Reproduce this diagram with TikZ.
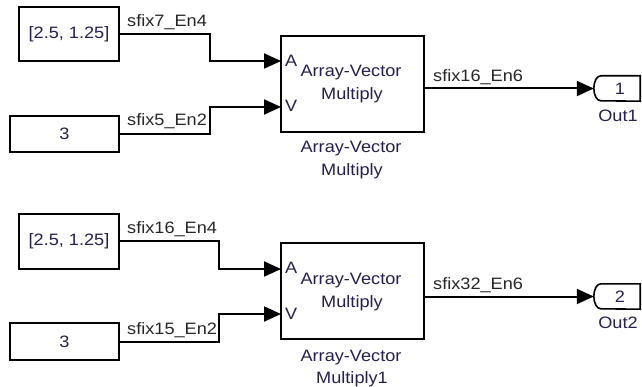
\documentclass[tikz,border=0pt]{standalone}
\usepackage{fontspec}
\setmainfont{Liberation Sans}[FakeStretch=1.1]
\usetikzlibrary{arrows.meta}
\definecolor{blk}{RGB}{40,30,80}
\begin{document}
\begin{tikzpicture}[x=1pt,y=-1pt,
  every node/.style={font=\fontsize{16.5}{20}\selectfont, text=blk},
  blockbox/.style={draw=black, line width=2pt, fill=white, inner sep=0pt},
  sig/.style={draw=black, line width=2pt, -{Triangle[length=17pt,width=15pt]}},
  sigl/.style={anchor=base west, inner sep=0pt, text=black!85},
  outport/.style={inner sep=0pt, minimum width=46pt, minimum height=25pt},
  portline/.style={draw=black, line width=1.6pt},
  lbl/.style={anchor=base, inner sep=0pt}
]
\useasboundingbox (0,0) rectangle (642,387);

% ---------- top group ----------
\node[blockbox, minimum width=100pt, minimum height=54pt] (c1) at (69,34) {[2.5, 1.25]};
\node[blockbox, minimum width=109pt, minimum height=36pt] (c2) at (64.5,134) {3};
\node[blockbox, minimum width=143pt, minimum height=96pt] (m1) at (352.5,84) {};
\coordinate (a1) at (281,61);
\coordinate (v1) at (281,107);
\node[anchor=west, inner sep=0pt] at (285,61) {A};
\node[anchor=west, inner sep=0pt] at (285,106) {V};
\node[lbl] at (351,77) {Array-Vector};
\node[lbl] at (352,100) {Multiply};
\node[lbl] at (351,153) {Array-Vector};
\node[lbl] at (352,176) {Multiply};
\node[outport] (o1) at (617,88.5) {\hspace{6pt}1};
\draw[portline] (o1.north east) -- ([xshift=7pt]o1.north west) arc[start angle=90, end angle=270, x radius=7pt, y radius=12.5pt] -- (o1.south east) -- cycle;
\node[lbl] at (618,122) {Out1};

\draw[sig] (c1.east) -- ++(90,0) |- (a1);
\draw[sig] (c2.east) -- ++(90,0) |- (v1);
\draw[sig] (m1.east |- o1.west) -- (o1.west);
\node[sigl] at (127,27) {sfix7\_En4};
\node[sigl] at (127,126) {sfix5\_En2};
\node[sigl] at (433,82) {sfix16\_En6};

% ---------- bottom group ----------
\node[blockbox, minimum width=100pt, minimum height=55pt] (c3) at (69,241.5) {[2.5, 1.25]};
\node[blockbox, minimum width=109pt, minimum height=37pt] (c4) at (64.5,341.5) {3};
\node[blockbox, minimum width=143pt, minimum height=96pt] (m2) at (352.5,291) {};
\coordinate (a2) at (281,269);
\coordinate (v2) at (281,314);
\node[anchor=west, inner sep=0pt] at (285,268) {A};
\node[anchor=west, inner sep=0pt] at (285,314) {V};
\node[lbl] at (351,284) {Array-Vector};
\node[lbl] at (352,307) {Multiply};
\node[lbl] at (351,361) {Array-Vector};
\node[lbl] at (352,383) {Multiply1};
\node[outport] (o2) at (617,296.5) {\hspace{6pt}2};
\draw[portline] (o2.north east) -- ([xshift=7pt]o2.north west) arc[start angle=90, end angle=270, x radius=7pt, y radius=12.5pt] -- (o2.south east) -- cycle;
\node[lbl] at (618,328) {Out2};

\draw[sig] (c3.east) -- ++(99,0) |- (a2);
\draw[sig] (c4.east) -- ++(99,0) |- (v2);
\draw[sig] (m2.east |- o2.west) -- (o2.west);
\node[sigl] at (127,234) {sfix16\_En4};
\node[sigl] at (127,334) {sfix15\_En2};
\node[sigl] at (433,289) {sfix32\_En6};
\end{tikzpicture}
\end{document}
